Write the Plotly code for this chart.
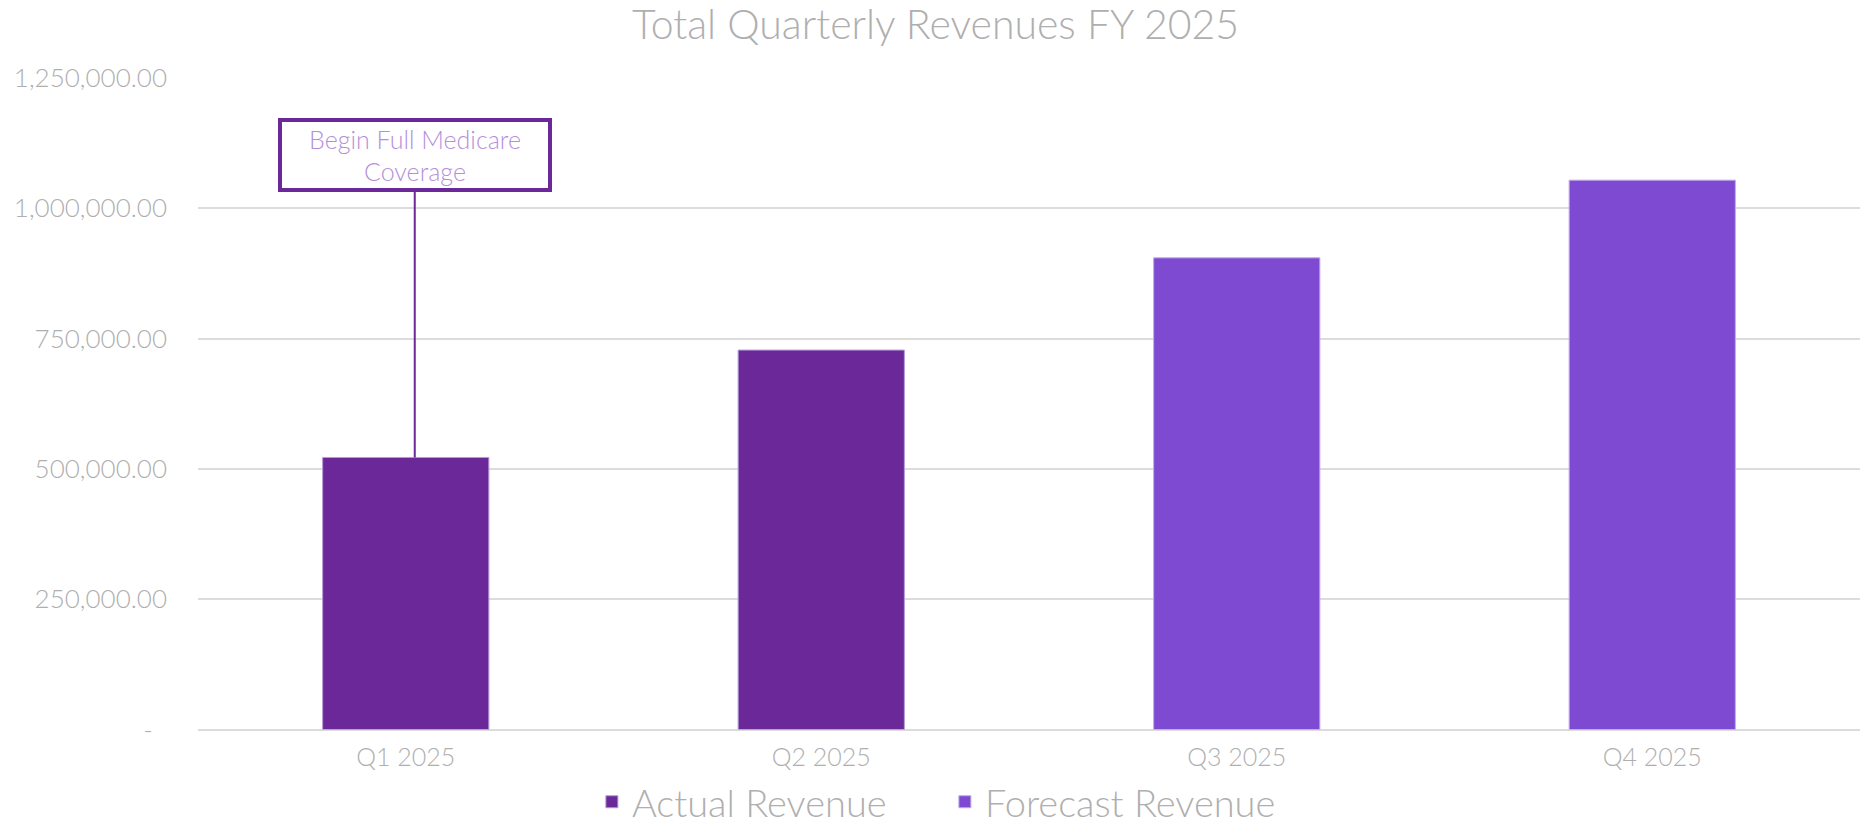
import plotly.graph_objects as go

quarters = ["Q1 2025", "Q2 2025", "Q3 2025", "Q4 2025"]
actual_quarters = ["Q1 2025", "Q2 2025"]
actual_revenue = [522000, 728000]
forecast_quarters = ["Q3 2025", "Q4 2025"]
forecast_revenue = [905000, 1054000]
ytick_vals = [0, 250000, 500000, 750000, 1000000, 1250000]
ytick_text = ["-\u00a0\u00a0", "250,000.00", "500,000.00", "750,000.00", "1,000,000.00", "1,250,000.00"]
annotation_text = "Begin Full Medicare<br>Coverage"

FONT = "Lato, 'Open Sans', sans-serif"
GRAY = "#AFAFAF"

fig = go.Figure()
fig.add_trace(go.Bar(
    x=actual_quarters, y=actual_revenue, name="Actual Revenue",
    marker=dict(color="#6B2898", line=dict(color="#B59AD6", width=1)),
    width=0.4,
))
fig.add_trace(go.Bar(
    x=forecast_quarters, y=forecast_revenue, name="Forecast Revenue",
    marker=dict(color="#7E4AD2", line=dict(color="#C2A8EC", width=1)),
    width=0.4,
))

fig.add_annotation(
    x=quarters[0], y=actual_revenue[0], xref="x", yref="y",
    text=annotation_text, showarrow=True, arrowhead=0, arrowwidth=2,
    arrowcolor="#6B2898", ax=0, ay=-302, xshift=9,
    font=dict(family=FONT, size=25, color="#B68FDA", weight=300),
    bgcolor="white", bordercolor="#6B2898", borderwidth=4, borderpad=2,
    width=262, height=62, align="center", valign="middle",
)

fig.update_layout(
    width=1860, height=832,
    margin=dict(l=198, r=0, t=78, b=101),
    paper_bgcolor="white", plot_bgcolor="white",
    barmode="overlay",
    title=dict(text="Total Quarterly Revenues FY 2025", x=0.503, xanchor="center",
               y=0.97, yanchor="middle", yref="container",
               font=dict(family=FONT, size=41, color=GRAY, weight=300)),
    xaxis=dict(categoryorder="array", categoryarray=quarters, showgrid=False,
               showline=False, ticks="", tickfont=dict(family=FONT, size=25, color=GRAY, weight=300),
               ticklabelstandoff=10),
    yaxis=dict(range=[0, 1250000], tickvals=ytick_vals, ticktext=ytick_text,
               showgrid=True, gridcolor="#DCDCDC", gridwidth=1.5, zeroline=True,
               zerolinecolor="#DCDCDC", zerolinewidth=1.5, showline=False, ticks="",
               tickfont=dict(family=FONT, size=26, color=GRAY, weight=300),
               ticklabelstandoff=30),
    legend=dict(orientation="h", xref="container", yref="container", x=0.508, y=0.036,
                xanchor="center", yanchor="middle",
                font=dict(family=FONT, size=38, color=GRAY, weight=300),
                itemwidth=30, tracegroupgap=0, entrywidth=308, entrywidthmode="pixels"),
    showlegend=True,
)

fig.write_html("out.html", config={"displayModeBar": False},
               post_script="document.body.style.margin='0px';document.body.style.overflow='hidden';")
